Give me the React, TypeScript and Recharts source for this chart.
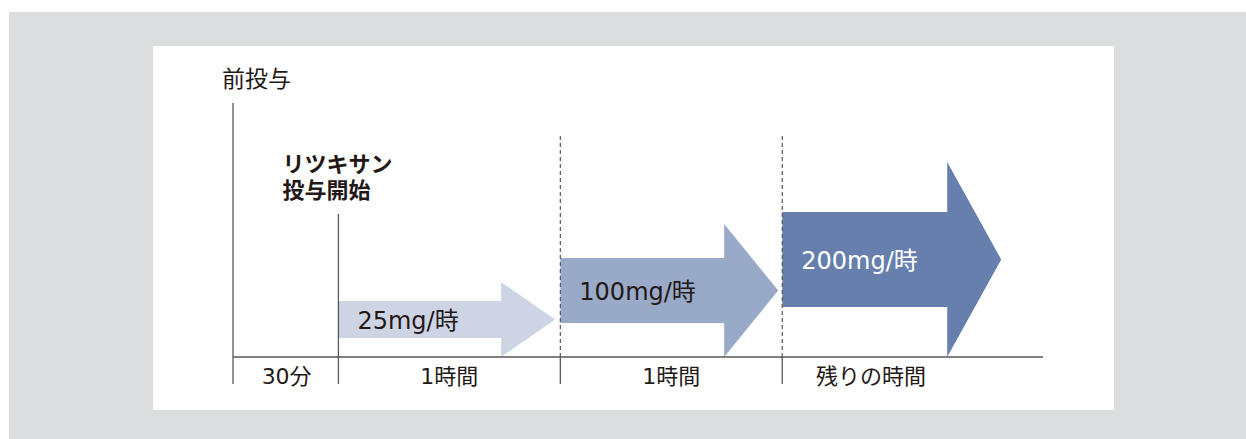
import { ComposedChart, XAxis, YAxis, ReferenceArea, ReferenceLine } from 'recharts'

// time axis in minutes; 0 = start of Rituxan infusion
const segmentLabels = ['30分', '1時間', '1時間', '残りの時間']
const segmentLabelAt = [-14, 30, 90, 144]
const boundaries = [0, 60, 120]

// arrows (heights in drawing units)
const rateLabels = ['25mg/時', '100mg/時', '200mg/時']
const arrowStart = [0, 60, 120]
const arrowHeadStart = [44, 104.3, 164.6]
const arrowTip = [58.6, 118.9, 179.2]
const arrowCenter = [37.5, 66.5, 97.5]
const arrowHalfBody = [18.5, 32.5, 47.5]
const arrowColors = ['#cdd5e5', '#99aac9', '#677fad']
const arrowTextColors = ['#231815', '#231815', '#ffffff']

const X_MIN = -28.5
const X_MAX = 190.5
const Y_MAX = 254

const FONT = '"DejaVu Sans", "Noto Sans CJK JP", sans-serif'
const INK = '#231815'
const LINE = '#595757'

const tickData = segmentLabels.map((name, i) => ({ t: segmentLabelAt[i], name }))

function ArrowShape(i: number) {
  return (props: any) => {
    const { x, y, width, height } = props
    const s = arrowStart[i]
    const f = (arrowHeadStart[i] - s) / (arrowTip[i] - s)
    const c = arrowCenter[i]
    const b = arrowHalfBody[i]
    const top = y + height * (1 - (c + b) / (2 * c))
    const bot = y + height * (1 - (c - b) / (2 * c))
    const hx = x + width * f
    const pts = [
      [x, top],
      [hx, top],
      [hx, y],
      [x + width, y + height / 2],
      [hx, y + height],
      [hx, bot],
      [x, bot],
    ]
      .map((p) => p.join(','))
      .join(' ')
    return (
      <g>
        <polygon points={pts} fill={arrowColors[i]} />
        <text
          x={x + 19}
          y={y + height / 2 + 1}
          dominantBaseline="central"
          fontSize={24}
          fontFamily={FONT}
          fill={arrowTextColors[i]}
        >
          {rateLabels[i]}
        </text>
      </g>
    )
  }
}

function BottomTick(props: any) {
  const { x, y, payload } = props
  const idx = segmentLabelAt.indexOf(payload.value)
  return (
    <text
      x={x}
      y={y + 19}
      textAnchor="middle"
      dominantBaseline="central"
      fontSize={22}
      fontFamily={FONT}
      fill={INK}
    >
      {segmentLabels[idx]}
    </text>
  )
}

export default function App() {
  return (
    <div style={{ position: 'absolute', left: 0, top: 0, width: 1246, height: 439 }}>
      <div
        style={{
          position: 'absolute',
          left: 9,
          top: 12,
          width: 1237,
          height: 427,
          background: '#dcdddf',
        }}
      />
      <div
        style={{
          position: 'absolute',
          left: 153,
          top: 46,
          width: 961,
          height: 364,
          background: '#ffffff',
        }}
      >
        <ComposedChart
          width={961}
          height={364}
          data={tickData}
          margin={{ top: 57, right: 71, bottom: 23, left: 80 }}
        >
          <XAxis
            dataKey="t"
            type="number"
            domain={[X_MIN, X_MAX]}
            ticks={segmentLabelAt}
            allowDataOverflow
            height={30}
            tickLine={false}
            tickSize={0}
            tickMargin={0}
            axisLine={{ stroke: LINE, strokeWidth: 1.3 }}
            tick={<BottomTick />}
            interval={0}
          />
          <YAxis hide type="number" domain={[0, Y_MAX]} allowDataOverflow />

          {/* left vertical axis, runs below the time axis */}
          <ReferenceLine
            segment={[
              { x: X_MIN, y: -27 },
              { x: X_MIN, y: Y_MAX },
            ]}
            stroke={LINE}
            strokeWidth={1.3}
            ifOverflow="visible"
            label={(p: any) => (
              <text
                x={p.viewBox.x - 11}
                y={p.viewBox.y - 24}
                dominantBaseline="central"
                fontSize={23}
                fontFamily={FONT}
                fill={INK}
              >
                前投与
              </text>
            )}
          />

          {/* infusion start line */}
          <ReferenceLine
            segment={[
              { x: boundaries[0], y: -27 },
              { x: boundaries[0], y: 143 },
            ]}
            stroke={LINE}
            strokeWidth={1.3}
            ifOverflow="visible"
            label={(p: any) => (
              <text
                x={p.viewBox.x - 56}
                y={p.viewBox.y - 50}
                fontSize={22}
                fontWeight={700}
                fontFamily={FONT}
                fill={INK}
              >
                <tspan x={p.viewBox.x - 56} dy="0" dominantBaseline="central">
                  リツキサン
                </tspan>
                <tspan x={p.viewBox.x - 56} dy="26" dominantBaseline="central">
                  投与開始
                </tspan>
              </text>
            )}
          />

          {boundaries.slice(1).map((b) => (
            <ReferenceLine
              key={`d${b}`}
              segment={[
                { x: b, y: 0 },
                { x: b, y: 223 },
              ]}
              stroke={LINE}
              strokeWidth={1.2}
              strokeDasharray="4 3"
              ifOverflow="visible"
            />
          ))}
          {boundaries.slice(1).map((b) => (
            <ReferenceLine
              key={`t${b}`}
              segment={[
                { x: b, y: -27 },
                { x: b, y: 0 },
              ]}
              stroke={LINE}
              strokeWidth={1.3}
              ifOverflow="visible"
            />
          ))}

          {rateLabels.map((_, i) => (
            <ReferenceArea
              key={i}
              x1={arrowStart[i]}
              x2={arrowTip[i]}
              y1={0}
              y2={arrowCenter[i] * 2}
              ifOverflow="visible"
              shape={ArrowShape(i)}
            />
          ))}
        </ComposedChart>
      </div>
    </div>
  )
}
